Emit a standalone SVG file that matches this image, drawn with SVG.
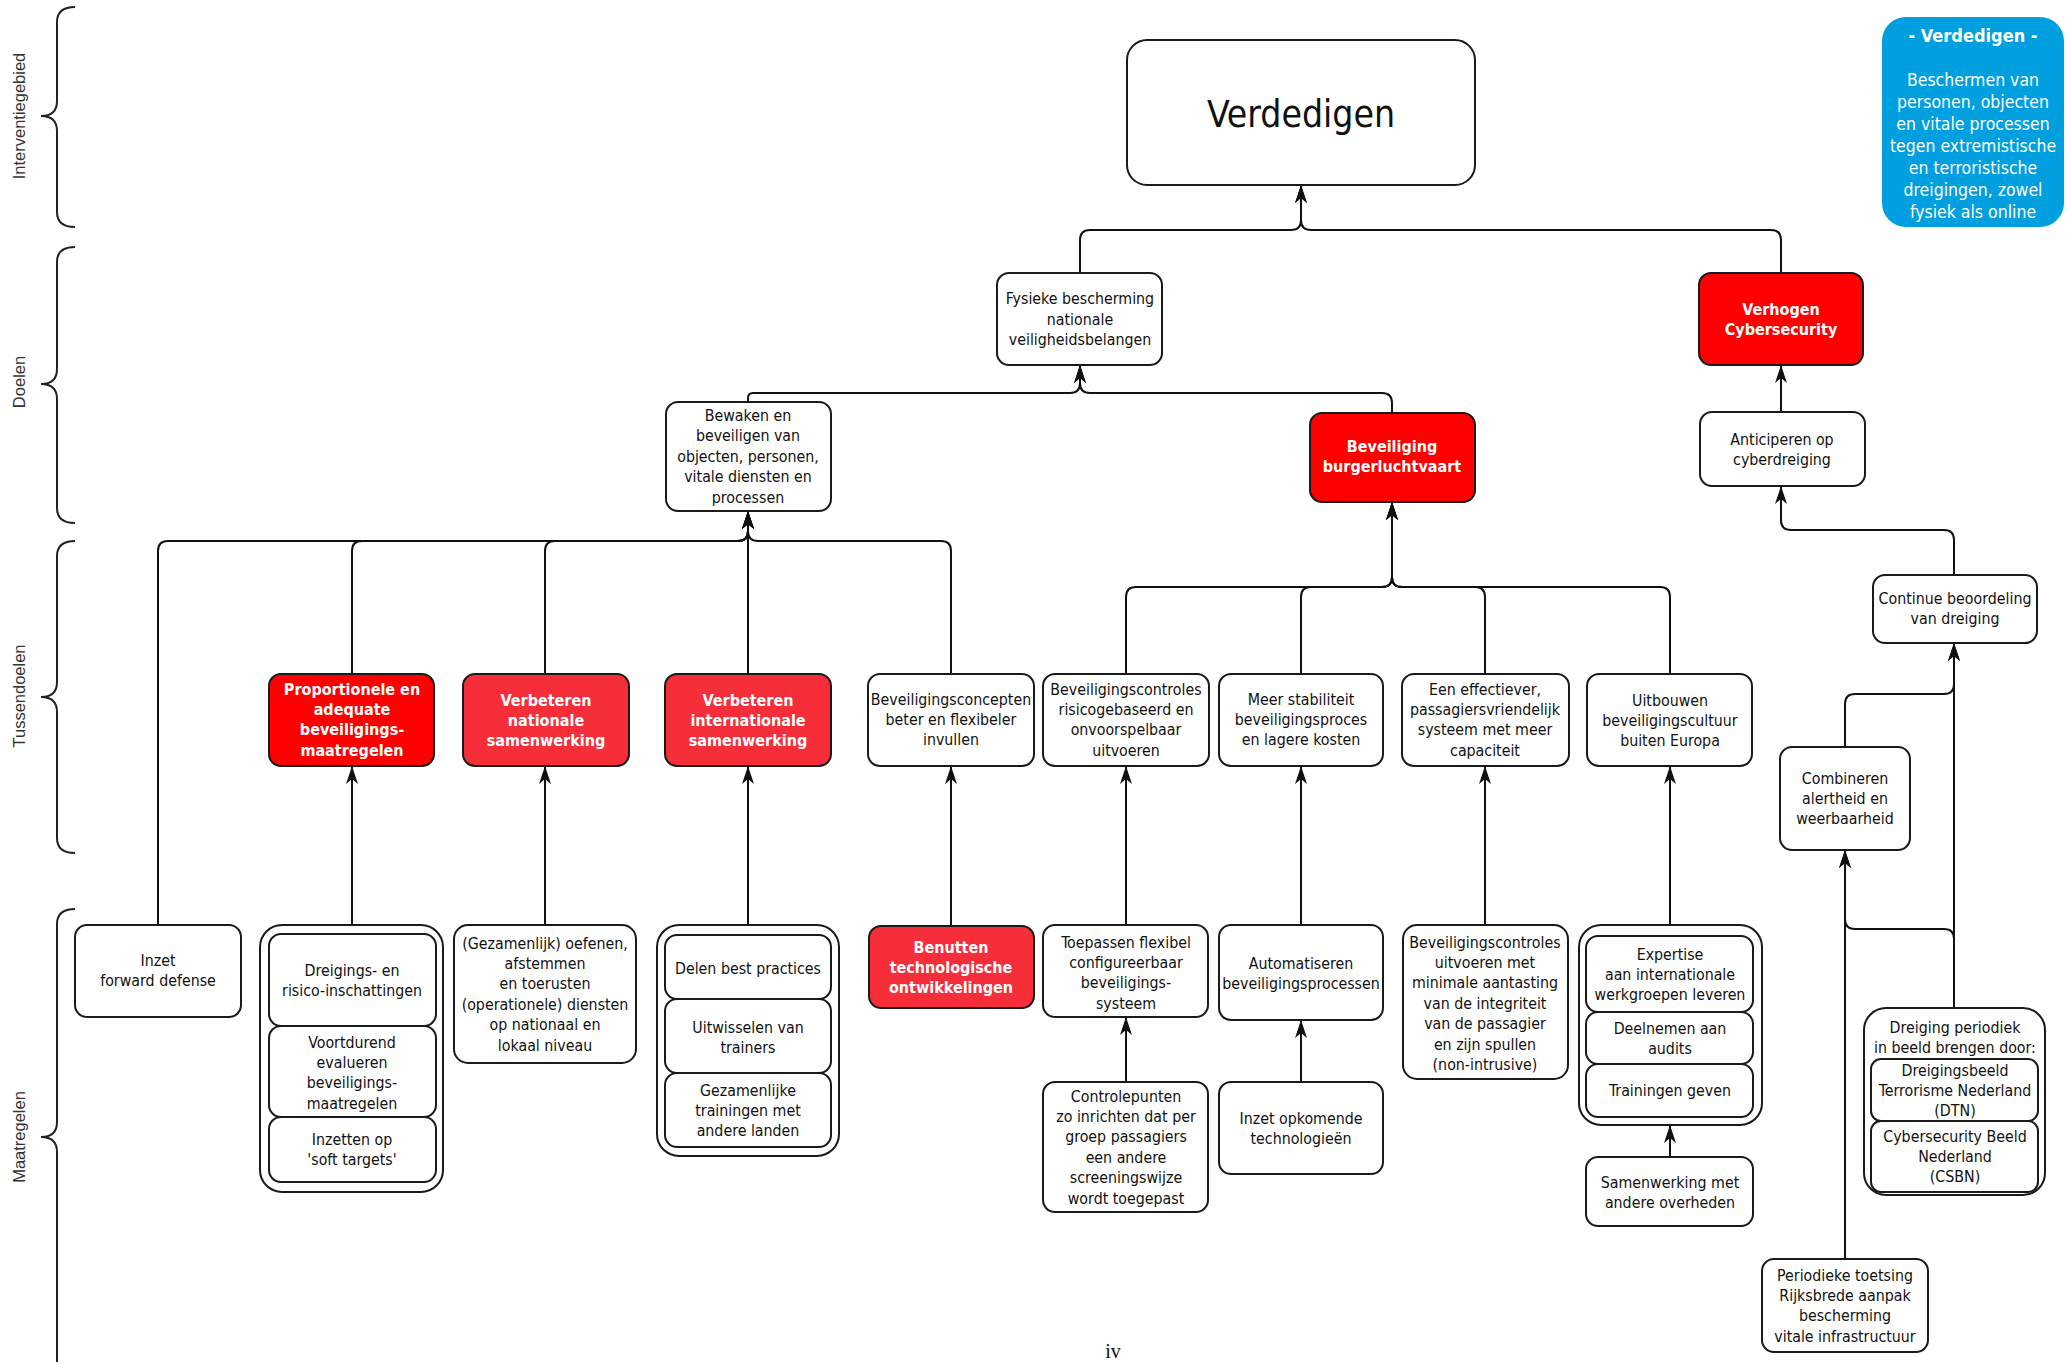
<svg xmlns="http://www.w3.org/2000/svg" width="2071" height="1364" viewBox="0 0 2071 1364">
<style>
.bg{fill:#fff}
.box{fill:#fff;stroke:#1a1a1a;stroke-width:2}
.red{fill:#ff0000;stroke:#1a1a1a;stroke-width:2}
.red2{fill:#f52e3a;stroke:#1a1a1a;stroke-width:2}
.t{font-family:"DejaVu Sans Condensed","DejaVu Sans",sans-serif;font-stretch:condensed;font-size:15.8px;text-anchor:middle;fill:#111}
.w{fill:#fff;font-weight:bold;font-size:16px}
.c{fill:none;stroke:#111;stroke-width:2}
.br{fill:none;stroke:#222;stroke-width:2}
.lab{font-family:"Liberation Sans",Arial,sans-serif;font-size:16.5px;fill:#333;text-anchor:middle}
</style>
<defs>
<marker id="ah" markerUnits="userSpaceOnUse" viewBox="0 0 18 13" markerWidth="18" markerHeight="13" refX="18" refY="6.5" orient="auto">
<path d="M0,0.5 L18,6.5 L0,12.5 L5,6.5 Z" fill="#111"/>
</marker>
</defs>
<rect class="bg" x="0" y="0" width="2071" height="1364"/>

<g id="brackets">
<path class="br" d="M75,7 Q57,7 57,22 V101 Q57,116 41,116 Q57,116 57,131 V212 Q57,227 75,227"/>
<path class="br" d="M75,247 Q57,247 57,262 V369 Q57,384 41,384 Q57,384 57,399 V508 Q57,523 75,523"/>
<path class="br" d="M75,541 Q57,541 57,556 V682 Q57,697 41,697 Q57,697 57,712 V838 Q57,853 75,853"/>
<path class="br" d="M75,909 Q57,909 57,924 V1122 Q57,1137 41,1137 Q57,1137 57,1152 V1362"/>
<text class="lab" transform="translate(25,116) rotate(-90)">Interventiegebied</text>
<text class="lab" transform="translate(25,382) rotate(-90)">Doelen</text>
<text class="lab" transform="translate(25,696) rotate(-90)">Tussendoelen</text>
<text class="lab" transform="translate(25,1137) rotate(-90)">Maatregelen</text>
</g>

<g id="connectors">
<path class="c" marker-end="url(#ah)" d="M1080,273 V240 Q1080,230 1090,230 H1291 Q1301,230 1301,220 V185"/>
<path class="c" marker-end="url(#ah)" d="M1781,273 V240 Q1781,230 1771,230 H1311 Q1301,230 1301,220 V185"/>
<path class="c" marker-end="url(#ah)" d="M748,402 V398 Q748,393 753,393 H1070 Q1080,393 1080,383 V365"/>
<path class="c" marker-end="url(#ah)" d="M1392,413 V403 Q1392,393 1382,393 H1090 Q1080,393 1080,383 V365"/>
<path class="c" marker-end="url(#ah)" d="M1781,412 V365"/>
<path class="c" marker-end="url(#ah)" d="M158,925 V551 Q158,541 168,541 H738 Q748,541 748,531 V511"/>
<path class="c" marker-end="url(#ah)" d="M352,674 V551 Q352,541 362,541 H738 Q748,541 748,531 V511"/>
<path class="c" marker-end="url(#ah)" d="M545,674 V551 Q545,541 555,541 H738 Q748,541 748,531 V511"/>
<path class="c" marker-end="url(#ah)" d="M748,674 V511"/>
<path class="c" marker-end="url(#ah)" d="M951,674 V551 Q951,541 941,541 H758 Q748,541 748,531 V511"/>
<path class="c" marker-end="url(#ah)" d="M1126,674 V597 Q1126,587 1136,587 H1382 Q1392,587 1392,577 V502"/>
<path class="c" marker-end="url(#ah)" d="M1301,674 V597 Q1301,587 1311,587 H1382 Q1392,587 1392,577 V502"/>
<path class="c" marker-end="url(#ah)" d="M1485,674 V597 Q1485,587 1475,587 H1402 Q1392,587 1392,577 V502"/>
<path class="c" marker-end="url(#ah)" d="M1670,674 V597 Q1670,587 1660,587 H1402 Q1392,587 1392,577 V502"/>
<path class="c" marker-end="url(#ah)" d="M1954,575 V540 Q1954,530 1944,530 H1791 Q1781,530 1781,520 V486"/>
<path class="c" marker-end="url(#ah)" d="M1845,747 V704 Q1845,694 1855,694 H1944 Q1954,694 1954,684 V643"/>
<path class="c" marker-end="url(#ah)" d="M1954,1008 V643"/>
<path class="c" marker-end="url(#ah)" d="M1954,1008 V939 Q1954,929 1944,929 H1855 Q1845,929 1845,919 V850"/>
<path class="c" marker-end="url(#ah)" d="M1845,1259 V850"/>
<path class="c" marker-end="url(#ah)" d="M352,925 V766"/>
<path class="c" marker-end="url(#ah)" d="M545,925 V766"/>
<path class="c" marker-end="url(#ah)" d="M748,925 V766"/>
<path class="c" marker-end="url(#ah)" d="M951,926 V766"/>
<path class="c" marker-end="url(#ah)" d="M1126,925 V766"/>
<path class="c" marker-end="url(#ah)" d="M1126,1082 V1017"/>
<path class="c" marker-end="url(#ah)" d="M1301,925 V766"/>
<path class="c" marker-end="url(#ah)" d="M1301,1082 V1020"/>
<path class="c" marker-end="url(#ah)" d="M1485,925 V766"/>
<path class="c" marker-end="url(#ah)" d="M1670,925 V766"/>
<path class="c" marker-end="url(#ah)" d="M1670,1157 V1125"/>
</g>

<g id="n-verdedigen">
<rect class="box" x="1127" y="40" width="348" height="145" rx="20"/>
<text class="t" x="1301" y="127" style="font-size:37px">Verdedigen</text>
</g>

<g id="n-legend">
<rect x="1882" y="17" width="182" height="210" rx="24" fill="#00a0e0"/>
<text class="t w" x="1973" y="42" style="font-size:18px">- Verdedigen -</text>
<text class="t" x="1973" y="86" style="fill:#fff;font-size:17.5px">Beschermen van<tspan x="1973" dy="22">personen, objecten</tspan><tspan x="1973" dy="22">en vitale processen</tspan><tspan x="1973" dy="22">tegen extremistische</tspan><tspan x="1973" dy="22">en terroristische</tspan><tspan x="1973" dy="22">dreigingen, zowel</tspan><tspan x="1973" dy="22">fysiek als online</tspan></text>
</g>

<g id="n-fysieke">
<rect class="box" x="997" y="273" width="165" height="92" rx="12"/>
<text class="t" x="1080" y="304">Fysieke bescherming<tspan x="1080" dy="20.5">nationale</tspan><tspan x="1080" dy="20.5">veiligheidsbelangen</tspan></text>
</g>
<g id="n-verhogen">
<rect class="red" x="1699" y="273" width="164" height="92" rx="12"/>
<text class="t w" x="1781" y="314.5">Verhogen<tspan x="1781" dy="20.5">Cybersecurity</tspan></text>
</g>
<g id="n-bewaken">
<rect class="box" x="666" y="402" width="165" height="109" rx="12"/>
<text class="t" x="748" y="420.5">Bewaken en<tspan x="748" dy="20.5">beveiligen van</tspan><tspan x="748" dy="20.5">objecten, personen,</tspan><tspan x="748" dy="20.5">vitale diensten en</tspan><tspan x="748" dy="20.5">processen</tspan></text>
</g>
<g id="n-burgerluchtvaart">
<rect class="red" x="1310" y="413" width="165" height="89" rx="12"/>
<text class="t w" x="1392" y="451.5">Beveiliging<tspan x="1392" dy="20.5">burgerluchtvaart</tspan></text>
</g>
<g id="n-anticiperen">
<rect class="box" x="1700" y="412" width="165" height="74" rx="12"/>
<text class="t" x="1782" y="444.5">Anticiperen op<tspan x="1782" dy="20.5">cyberdreiging</tspan></text>
</g>

<g id="n-proportionele">
<rect class="red" x="269" y="674" width="165" height="92" rx="12"/>
<text class="t w" x="352" y="694.5">Proportionele en<tspan x="352" dy="20.4">adequate</tspan><tspan x="352" dy="20.4">beveiligings-</tspan><tspan x="352" dy="20.4">maatregelen</tspan></text>
</g>
<g id="n-nationale">
<rect class="red2" x="463" y="674" width="166" height="92" rx="12"/>
<text class="t w" x="546" y="705.5">Verbeteren<tspan x="546" dy="20.4">nationale</tspan><tspan x="546" dy="20.4">samenwerking</tspan></text>
</g>
<g id="n-internationale">
<rect class="red2" x="665" y="674" width="166" height="92" rx="12"/>
<text class="t w" x="748" y="705.5">Verbeteren<tspan x="748" dy="20.4">internationale</tspan><tspan x="748" dy="20.4">samenwerking</tspan></text>
</g>
<g id="n-concepten">
<rect class="box" x="868" y="674" width="166" height="92" rx="12"/>
<text class="t" x="951" y="704.5">Beveiligingsconcepten<tspan x="951" dy="20.4">beter en flexibeler</tspan><tspan x="951" dy="20.4">invullen</tspan></text>
</g>
<g id="n-risico">
<rect class="box" x="1043" y="674" width="166" height="92" rx="12"/>
<text class="t" x="1126" y="694.5">Beveiligingscontroles<tspan x="1126" dy="20.4">risicogebaseerd en</tspan><tspan x="1126" dy="20.4">onvoorspelbaar</tspan><tspan x="1126" dy="20.4">uitvoeren</tspan></text>
</g>
<g id="n-stabiliteit">
<rect class="box" x="1219" y="674" width="164" height="92" rx="12"/>
<text class="t" x="1301" y="704.5">Meer stabiliteit<tspan x="1301" dy="20.4">beveiligingsproces</tspan><tspan x="1301" dy="20.4">en lagere kosten</tspan></text>
</g>
<g id="n-effectiever">
<rect class="box" x="1402" y="674" width="167" height="92" rx="12"/>
<text class="t" x="1485" y="694.5">Een effectiever,<tspan x="1485" dy="20.4">passagiersvriendelijk</tspan><tspan x="1485" dy="20.4">systeem met meer</tspan><tspan x="1485" dy="20.4">capaciteit</tspan></text>
</g>
<g id="n-uitbouwen">
<rect class="box" x="1587" y="674" width="165" height="92" rx="12"/>
<text class="t" x="1670" y="705.5">Uitbouwen<tspan x="1670" dy="20.4">beveiligingscultuur</tspan><tspan x="1670" dy="20.4">buiten Europa</tspan></text>
</g>
<g id="n-continue">
<rect class="box" x="1873" y="575" width="164" height="68" rx="12"/>
<text class="t" x="1955" y="604">Continue beoordeling<tspan x="1955" dy="20.4">van dreiging</tspan></text>
</g>
<g id="n-combineren">
<rect class="box" x="1780" y="747" width="130" height="103" rx="12"/>
<text class="t" x="1845" y="783.5">Combineren<tspan x="1845" dy="20.4">alertheid en</tspan><tspan x="1845" dy="20.4">weerbaarheid</tspan></text>
</g>

<g id="n-forward">
<rect class="box" x="75" y="925" width="166" height="92" rx="12"/>
<text class="t" x="158" y="965.5">Inzet<tspan x="158" dy="20.4">forward defense</tspan></text>
</g>
<g id="n-prop-group">
<rect class="box" x="260" y="925" width="183" height="267" rx="22"/>
<rect class="box" x="269" y="934" width="167" height="92" rx="12"/>
<rect class="box" x="269" y="1026" width="167" height="91" rx="12"/>
<rect class="box" x="269" y="1117" width="167" height="65" rx="12"/>
<text class="t" x="352" y="975.5">Dreigings- en<tspan x="352" dy="20.4">risico-inschattingen</tspan></text>
<text class="t" x="352" y="1047.5">Voortdurend<tspan x="352" dy="20.4">evalueren</tspan><tspan x="352" dy="20.4">beveiligings-</tspan><tspan x="352" dy="20.4">maatregelen</tspan></text>
<text class="t" x="352" y="1144.5">Inzetten op<tspan x="352" dy="20.4">'soft targets'</tspan></text>
</g>
<g id="n-oefenen">
<rect class="box" x="454" y="925" width="182" height="138" rx="14"/>
<text class="t" x="545" y="948.5">(Gezamenlijk) oefenen,<tspan x="545" dy="20.4">afstemmen</tspan><tspan x="545" dy="20.4">en toerusten</tspan><tspan x="545" dy="20.4">(operationele) diensten</tspan><tspan x="545" dy="20.4">op nationaal en</tspan><tspan x="545" dy="20.4">lokaal niveau</tspan></text>
</g>
<g id="n-int-group">
<rect class="box" x="657" y="925" width="182" height="231" rx="22"/>
<rect class="box" x="665" y="935" width="166" height="64" rx="12"/>
<rect class="box" x="665" y="999" width="166" height="74" rx="12"/>
<rect class="box" x="665" y="1073" width="166" height="74" rx="12"/>
<text class="t" x="748" y="973.5">Delen best practices</text>
<text class="t" x="748" y="1032.5">Uitwisselen van<tspan x="748" dy="20.4">trainers</tspan></text>
<text class="t" x="748" y="1095.5">Gezamenlijke<tspan x="748" dy="20.4">trainingen met</tspan><tspan x="748" dy="20.4">andere landen</tspan></text>
</g>
<g id="n-benutten">
<rect class="red2" x="869" y="926" width="165" height="82" rx="12"/>
<text class="t w" x="951" y="952.5">Benutten<tspan x="951" dy="20.4">technologische</tspan><tspan x="951" dy="20.4">ontwikkelingen</tspan></text>
</g>
<g id="n-toepassen">
<rect class="box" x="1043" y="925" width="165" height="92" rx="12"/>
<text class="t" x="1126" y="947.5">Toepassen flexibel<tspan x="1126" dy="20.4">configureerbaar</tspan><tspan x="1126" dy="20.4">beveiligings-</tspan><tspan x="1126" dy="20.4">systeem</tspan></text>
</g>
<g id="n-controlepunten">
<rect class="box" x="1043" y="1082" width="165" height="130" rx="12"/>
<text class="t" x="1126" y="1101.5">Controlepunten<tspan x="1126" dy="20.4">zo inrichten dat per</tspan><tspan x="1126" dy="20.4">groep passagiers</tspan><tspan x="1126" dy="20.4">een andere</tspan><tspan x="1126" dy="20.4">screeningswijze</tspan><tspan x="1126" dy="20.4">wordt toegepast</tspan></text>
</g>
<g id="n-automatiseren">
<rect class="box" x="1219" y="925" width="164" height="95" rx="12"/>
<text class="t" x="1301" y="968.5">Automatiseren<tspan x="1301" dy="20.4">beveiligingsprocessen</tspan></text>
</g>
<g id="n-opkomende">
<rect class="box" x="1219" y="1082" width="164" height="92" rx="12"/>
<text class="t" x="1301" y="1123.5">Inzet opkomende<tspan x="1301" dy="20.4">technologieën</tspan></text>
</g>
<g id="n-nonintrusive">
<rect class="box" x="1403" y="925" width="165" height="154" rx="14"/>
<text class="t" x="1485" y="947.5">Beveiligingscontroles<tspan x="1485" dy="20.4">uitvoeren met</tspan><tspan x="1485" dy="20.4">minimale aantasting</tspan><tspan x="1485" dy="20.4">van de integriteit</tspan><tspan x="1485" dy="20.4">van de passagier</tspan><tspan x="1485" dy="20.4">en zijn spullen</tspan><tspan x="1485" dy="20.4">(non-intrusive)</tspan></text>
</g>
<g id="n-uit-group">
<rect class="box" x="1579" y="925" width="183" height="200" rx="22"/>
<rect class="box" x="1586" y="936" width="167" height="76" rx="12"/>
<rect class="box" x="1586" y="1012" width="167" height="52" rx="12"/>
<rect class="box" x="1586" y="1064" width="167" height="53" rx="12"/>
<text class="t" x="1670" y="959.5">Expertise<tspan x="1670" dy="20.4">aan internationale</tspan><tspan x="1670" dy="20.4">werkgroepen leveren</tspan></text>
<text class="t" x="1670" y="1033.5">Deelnemen aan<tspan x="1670" dy="20.4">audits</tspan></text>
<text class="t" x="1670" y="1095.5">Trainingen geven</text>
</g>
<g id="n-samenwerking">
<rect class="box" x="1586" y="1157" width="167" height="69" rx="12"/>
<text class="t" x="1670" y="1187.5">Samenwerking met<tspan x="1670" dy="20.4">andere overheden</tspan></text>
</g>
<g id="n-dreiging-group">
<rect class="box" x="1864" y="1008" width="181" height="187" rx="22"/>
<text class="t" x="1955" y="1032.5">Dreiging periodiek<tspan x="1955" dy="20.4">in beeld brengen door:</tspan></text>
<rect class="box" x="1871" y="1059" width="167" height="62" rx="10"/>
<rect class="box" x="1871" y="1121" width="167" height="71" rx="10"/>
<text class="t" x="1955" y="1075.5">Dreigingsbeeld<tspan x="1955" dy="20.4">Terrorisme Nederland</tspan><tspan x="1955" dy="20.4">(DTN)</tspan></text>
<text class="t" x="1955" y="1141.5">Cybersecurity Beeld<tspan x="1955" dy="20.4">Nederland</tspan><tspan x="1955" dy="20.4">(CSBN)</tspan></text>
</g>
<g id="n-periodieke">
<rect class="box" x="1762" y="1259" width="166" height="93" rx="12"/>
<text class="t" x="1845" y="1280.5">Periodieke toetsing<tspan x="1845" dy="20.4">Rijksbrede aanpak</tspan><tspan x="1845" dy="20.4">bescherming</tspan><tspan x="1845" dy="20.4">vitale infrastructuur</tspan></text>
</g>
<text x="1113" y="1358" style="font-family:'Liberation Serif',serif;font-size:20px;text-anchor:middle;fill:#111">iv</text>
</svg>
